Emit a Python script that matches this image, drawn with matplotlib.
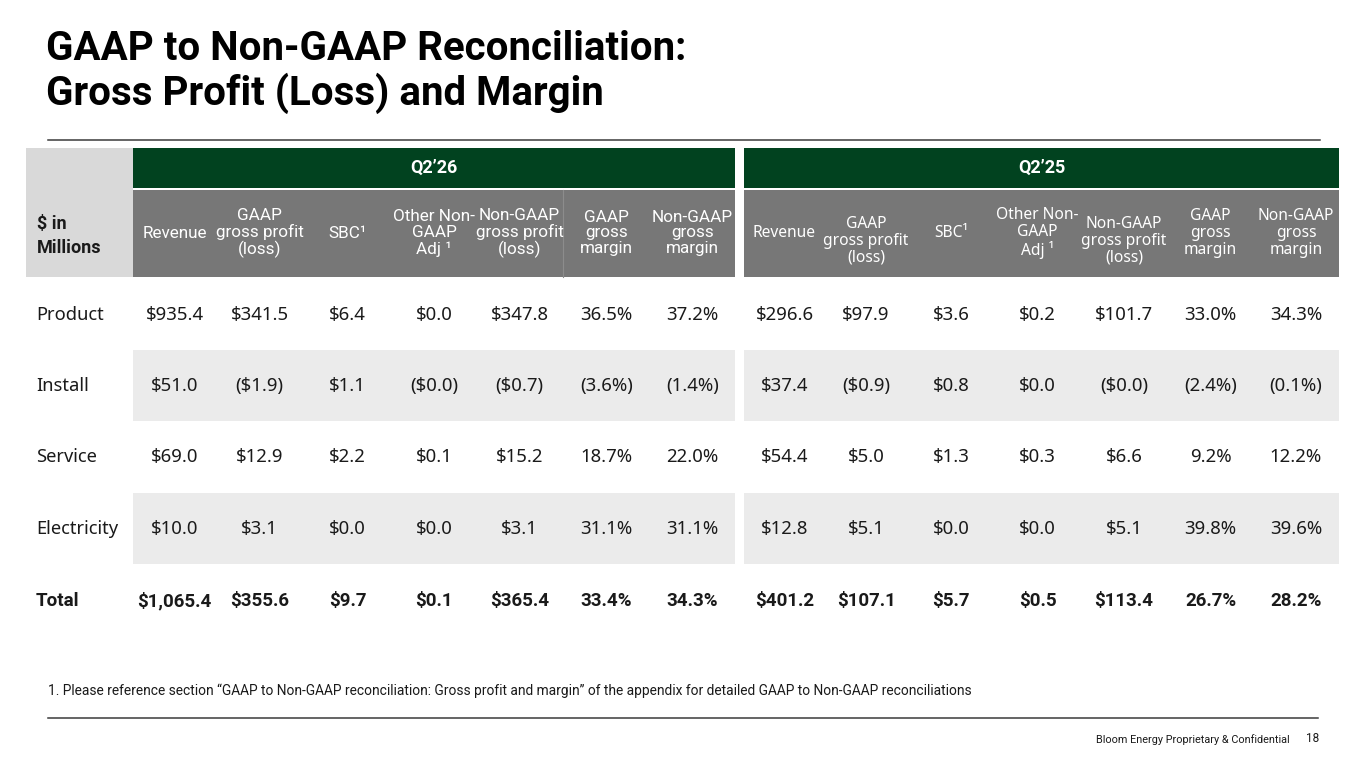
import matplotlib
matplotlib.use("Agg")
import matplotlib.pyplot as plt
from matplotlib.patches import Rectangle

# ---- data ----
title_lines = ["GAAP to Non-GAAP Reconciliation:", "Gross Profit (Loss) and Margin"]
periods = ["Q2\u201926", "Q2\u201925"]
col_heads = ["Revenue", "GAAP\ngross profit\n(loss)", "SBC\u00b9", "Other Non-\nGAAP\nAdj \u00b9",
             "Non-GAAP\ngross profit\n(loss)", "GAAP\ngross\nmargin", "Non-GAAP\ngross\nmargin"]
row_names = ["Product", "Install", "Service", "Electricity", "Total"]

q226 = [
    ["$935.4", "$341.5", "$6.4", "$0.0", "$347.8", "36.5%", "37.2%"],
    ["$51.0", "($1.9)", "$1.1", "($0.0)", "($0.7)", "(3.6%)", "(1.4%)"],
    ["$69.0", "$12.9", "$2.2", "$0.1", "$15.2", "18.7%", "22.0%"],
    ["$10.0", "$3.1", "$0.0", "$0.0", "$3.1", "31.1%", "31.1%"],
    ["$1,065.4", "$355.6", "$9.7", "$0.1", "$365.4", "33.4%", "34.3%"],
]
q225 = [
    ["$296.6", "$97.9", "$3.6", "$0.2", "$101.7", "33.0%", "34.3%"],
    ["$37.4", "($0.9)", "$0.8", "$0.0", "($0.0)", "(2.4%)", "(0.1%)"],
    ["$54.4", "$5.0", "$1.3", "$0.3", "$6.6", "9.2%", "12.2%"],
    ["$12.8", "$5.1", "$0.0", "$0.0", "$5.1", "39.8%", "39.6%"],
    ["$401.2", "$107.1", "$5.7", "$0.5", "$113.4", "26.7%", "28.2%"],
]
footnote = ("1. Please reference section \u201cGAAP to Non-GAAP reconciliation: Gross profit and margin\u201d "
            "of the appendix for detailed GAAP to Non-GAAP reconciliations")
footer = "Bloom Energy Proprietary & Confidential"
page_no = "18"

# ---- layout (pixels) ----
edges = [
    [133, 216, 303, 392, 476, 563, 650, 735],
    [744, 825, 907, 995, 1080, 1168, 1253, 1339],
]
head_y = [
    [233, 233, 233, 233, 233, 233, 233],
    [233, 241, 233, 233, 241, 233, 233],
]
row_top = [279, 350, 421, 493, 565]
row_h = 72
green = "#01421f"
grey_head = "#777777"
label_bg = "#d9d9d9"
stripe = "#ebebeb"
txt = "#1a1a1a"
cond = ["Roboto", "DejaVu Sans"]
body = ["Noto Sans", "DejaVu Sans"]

fig = plt.figure(figsize=(13.65, 7.68), dpi=100)
ax = fig.add_axes([0, 0, 1, 1])
ax.set_xlim(0, 1365)
ax.set_ylim(768, 0)
ax.axis("off")

# title
for i, line in enumerate(title_lines):
    ax.text(46, 49 + 44 * i, line, fontsize=29, fontweight="bold", family=cond,
            color="black", va="center", ha="left")
ax.plot([48, 1320], [140, 140], color="#3a3a3a", lw=1.1)

# label header cell
ax.add_patch(Rectangle((26, 148), 107, 129, color=label_bg, lw=0))
ax.text(37, 236, "$ in\nMillions", fontsize=13, fontweight="bold", family=cond,
        color=txt, va="center", ha="left", linespacing=1.4)

for g, e in enumerate(edges):
    x0, x1 = e[0], e[-1]
    ax.add_patch(Rectangle((x0, 148), x1 - x0, 40, color=green, lw=0))
    ax.text((x0 + x1) / 2, 168, periods[g], fontsize=13, fontweight="bold", family=cond,
            color="white", va="center", ha="center")
    ax.add_patch(Rectangle((x0, 190), x1 - x0, 87, color=grey_head, lw=0))
    hfam = cond if g == 0 else body
    hsize = 12.3 if g == 0 else 11.2
    for c, head in enumerate(col_heads):
        cx = (e[c] + e[c + 1]) / 2
        ax.text(cx, head_y[g][c], head, fontsize=hsize, family=hfam, color="white",
                va="center", ha="center", multialignment="center", linespacing=1.07)
    if g == 0:
        ax.plot([e[5], e[5]], [190, 277], color="#8c8c8c", lw=0.8)

    data = q226 if g == 0 else q225
    for r, name in enumerate(row_names):
        yt = row_top[r]
        if r % 2 == 1:
            ax.add_patch(Rectangle((x0, yt), x1 - x0, row_h - 1, color=stripe, lw=0))
        bold = name == "Total"
        for c, val in enumerate(data[r]):
            cx = (e[c] + e[c + 1]) / 2
            if bold:
                ax.text(cx, yt + row_h / 2, val, fontsize=13.5, fontweight="bold", family=cond,
                        color=txt, va="center", ha="center")
            else:
                ax.text(cx, yt + row_h / 2, val, fontsize=13.4, family=body,
                        color=txt, va="center", ha="center")

for r, name in enumerate(row_names):
    yt = row_top[r]
    if name == "Total":
        ax.text(36, yt + row_h / 2, name, fontsize=13.5, fontweight="bold", family=cond,
                color=txt, va="center", ha="left")
    else:
        ax.text(36, yt + row_h / 2, name, fontsize=13.2, family=body,
                color=txt, va="center", ha="left")

# footnote and footer
ax.text(48, 691, footnote, fontsize=9.9, family=cond, color=txt, va="center", ha="left")
ax.plot([48, 1318], [718, 718], color="#3a3a3a", lw=1.1)
ax.text(1290, 740, footer, fontsize=7.8, family=cond, color=txt, va="center", ha="right")
ax.text(1319, 739, page_no, fontsize=8.5, family=cond, color=txt, va="center", ha="right")

fig.savefig("out.png", dpi=100, facecolor="white")
